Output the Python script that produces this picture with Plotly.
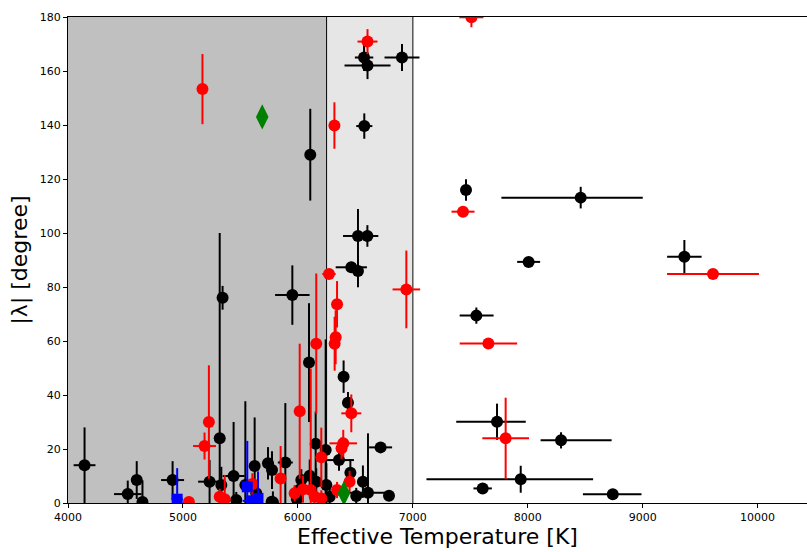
import plotly.graph_objects as go

# ---- data: (Teff, |lambda|, Teff error (+/-), |lambda| error) ----
black_x = [4144, 4520, 4598, 4648, 4910, 5320, 5345, 5232, 5334, 5441, 5464, 5543, 5624, 5638,
           5740, 5775, 5783, 5891, 6097, 6398, 6436, 6720, 6793, 6610, 6566, 6457, 6358, 6508,
           6155, 6242, 6030, 6103, 6160, 6248, 6277, 5992, 6010, 5772, 6108, 6576, 6606, 6906,
           6578, 6523, 6605, 6465, 6523, 5952, 7553, 7463, 8461, 8008, 9363, 7733, 8290, 7939,
           7608, 8740]
black_y = [14.0, 3.3, 8.5, 0.4, 8.5, 24.0, 76.0, 7.9, 6.7, 10.0, 1.1, 6.7, 13.7, 3.6,
           14.7, 12.2, 0.3, 15.0, 52.0, 46.8, 37.1, 20.6, 2.7, 3.8, 7.9, 11.2, 15.9, 2.6,
           21.9, 19.6, 8.5, 10.1, 7.9, 6.7, 2.3, 1.4, 4.8, 0.5, 129.0, 165.0, 162.0, 165.0,
           139.6, 98.9, 98.9, 87.3, 85.9, 77.0, 69.4, 115.9, 113.1, 89.3, 91.2, 30.1, 23.2, 8.8,
           5.4, 3.2]
black_xerr_plus = [95, 120, 0, 0, 100, 0, 40, 100, 0, 95, 0, 0, 0, 0,
                   50, 0, 0, 65, 0, 0, 0, 100, 0, 165, 0, 0, 130, 0,
                   0, 0, 0, 0, 0, 0, 0, 0, 0, 0, 0, 80, 200, 152,
                   70, 130, 95, 136, 0, 150, 150, 0, 540, 100, 150, 250, 440, 630,
                   80, 250]
black_xerr_minus = [95, 120, 0, 0, 100, 0, 40, 100, 0, 95, 0, 0, 0, 0,
                    50, 0, 0, 65, 0, 0, 0, 100, 0, 165, 0, 0, 130, 0,
                    0, 0, 0, 0, 0, 0, 0, 0, 0, 0, 0, 80, 200, 152,
                    70, 130, 95, 136, 0, 150, 145, 0, 690, 100, 150, 355, 178, 820,
                    80, 260]
black_yerr = [14, 5, 7, 8, 7, 76, 4.4, 8, 6.7, 20, 3, 31, 18, 5,
              6, 7, 4, 22, 22, 6, 4, 2, 2, 22, 6, 5, 4, 3,
              12, 41, 4, 6, 5, 8, 3, 2, 3, 2, 17, 5, 5, 5,
              4.7, 10, 4, 2, 6, 11, 3, 4, 4, 1, 6.2, 6.7, 3, 5,
              1, 1]

red_x = [5052, 5226, 5188, 5320, 5364, 5850, 6016, 6160, 6320, 6329, 6341, 6271, 6318, 6606,
         5170, 6944, 7510, 7437, 9612, 7658, 7808, 6465, 6395, 6380, 6204, 6450, 6341, 5972,
         6045, 6112, 6146, 6204, 5604]
red_y = [0.4, 30.0, 21.1, 2.3, 1.4, 9.1, 34.0, 59.0, 59.0, 61.4, 73.6, 84.8, 139.8, 170.9,
         153.3, 79.1, 179.9, 107.9, 84.8, 59.1, 24.0, 33.2, 22.1, 20.3, 16.9, 7.9, 4.8, 3.6,
         5.1, 4.8, 2.3, 1.7, 7.0]
red_xerr = [0, 0, 100, 0, 0, 0, 0, 0, 0, 0, 0, 58, 0, 87,
            0, 120, 105, 100, 400, 250, 203, 87, 120, 0, 0, 0, 0, 0,
            0, 0, 0, 0, 0]
red_yerr = [2, 21, 5, 3, 9, 12, 25, 26, 10, 10, 8.6, 1, 8.6, 4.6,
            13, 14.4, 3.7, 1, 1, 1, 15, 7, 5, 4, 11, 4, 3, 3,
            5, 45, 3, 3, 4]

blue_x = [4950, 5560, 5653, 5600]
blue_y = [1.4, 6.0, 1.7, 0.8]
blue_xerr = [50, 0, 0, 80]
blue_yerr = [11.5, 17, 10, 2]

green_x = [5690, 6401]
green_y = [143.0, 3.6]

x_ticks = [4000, 5000, 6000, 7000, 8000, 9000, 10000]
y_ticks = [0, 20, 40, 60, 80, 100, 120, 140, 160, 180]
cool_edge, mid_edge, hot_edge = 4000, 6250, 7000

fig = go.Figure()


def add_series(xs, ys, xe_p, xe_m, ye, color, symbol, size):
    fig.add_trace(go.Scatter(
        x=xs, y=ys, mode="markers",
        marker=dict(color=color, symbol=symbol, size=size, line=dict(width=0)),
        error_x=dict(type="data", array=xe_p, arrayminus=xe_m, symmetric=False, visible=True,
                     color=color, thickness=2, width=0),
        error_y=dict(type="data", array=ye, visible=True, color=color, thickness=2, width=0),
        showlegend=False, cliponaxis=True,
    ))


add_series(black_x, black_y, black_xerr_plus, black_xerr_minus, black_yerr, "black", "circle", 12)
add_series(red_x, red_y, red_xerr, red_xerr, red_yerr, "red", "circle", 12)
add_series(blue_x, blue_y, blue_xerr, blue_xerr, blue_yerr, "blue", "square", 11)
fig.add_trace(go.Scatter(x=green_x, y=green_y, mode="markers",
                         marker=dict(color="green", symbol="diamond-tall", size=18, line=dict(width=0)),
                         showlegend=False))

fig.add_shape(type="rect", xref="x", yref="paper", x0=cool_edge, x1=mid_edge, y0=0, y1=1,
              fillcolor="#c0c0c0", line=dict(width=0), layer="below")
fig.add_shape(type="rect", xref="x", yref="paper", x0=mid_edge, x1=hot_edge, y0=0, y1=1,
              fillcolor="#e6e6e6", line=dict(width=0), layer="below")
fig.add_shape(type="line", xref="x", yref="paper", x0=mid_edge, x1=mid_edge, y0=0, y1=1,
              line=dict(color="black", width=1), layer="below")
fig.add_shape(type="line", xref="x", yref="paper", x0=hot_edge, x1=hot_edge, y0=0, y1=1,
              line=dict(color="#555555", width=1.5), layer="below")

fig.update_layout(
    width=807, height=552,
    margin=dict(l=68, r=0, t=17, b=49),
    paper_bgcolor="white", plot_bgcolor="white",
    font=dict(family="DejaVu Sans", color="black"),
    xaxis=dict(range=[4000, 10430], tickvals=x_ticks, ticktext=[str(v) for v in x_ticks],
               showgrid=False, zeroline=False, showline=True, linecolor="black", linewidth=1.2,
               mirror=True, ticks="outside", ticklen=4, tickcolor="black",
               tickfont=dict(size=11),
               title=dict(text="Effective Temperature [K]", font=dict(size=22), standoff=5)),
    yaxis=dict(range=[0, 180], tickvals=y_ticks, ticktext=[str(v) for v in y_ticks],
               showgrid=False, zeroline=False, showline=True, linecolor="black", linewidth=1.2,
               ticks="outside", ticklen=4, tickcolor="black",
               tickfont=dict(size=11),
               title=dict(text="|λ| [degree]", font=dict(size=22), standoff=6)),
)

fig.write_html("out.html")
